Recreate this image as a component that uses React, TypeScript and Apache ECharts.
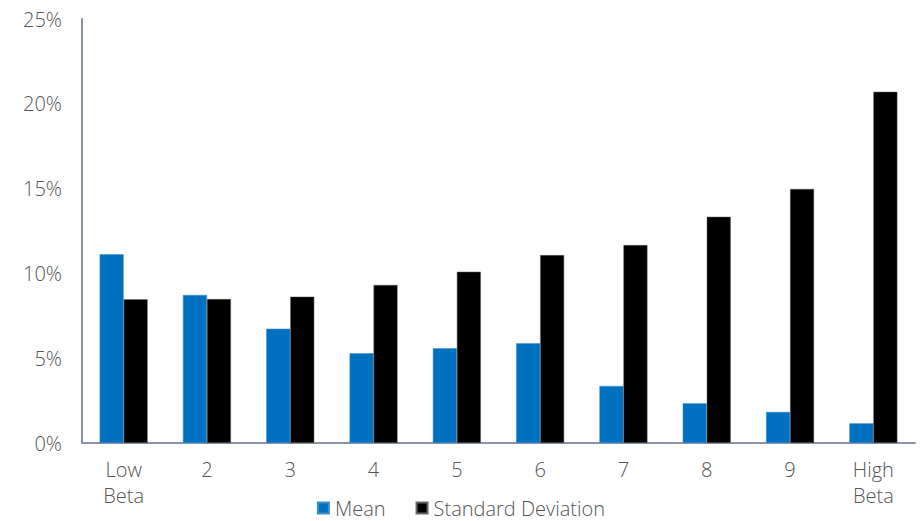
import React, { useEffect, useRef } from "react";
import * as echarts from "echarts";

const categories = ["Low\nBeta", "2", "3", "4", "5", "6", "7", "8", "9", "High\nBeta"];
const meanValues = [11.13, 8.73, 6.74, 5.29, 5.58, 5.88, 3.36, 2.34, 1.83, 1.16];
const stdValues = [8.47, 8.49, 8.63, 9.32, 10.1, 11.08, 11.67, 13.34, 14.98, 20.71];
const seriesNames = ["Mean", "Standard Deviation"];

const FONT = "'Open Sans', 'Noto Sans', sans-serif";
const TEXT = "#555555";
const AXIS = "#8a94a6";

export default function App() {
  const ref = useRef<HTMLDivElement>(null);

  useEffect(() => {
    if (!ref.current) return;
    const chart = echarts.init(ref.current, undefined, { renderer: "svg" });
    chart.setOption({
      animation: false,
      backgroundColor: "#ffffff",
      grid: { left: 82, right: 7, top: 19, bottom: 78, containLabel: false },
      legend: {
        bottom: -2,
        left: "center",
        itemWidth: 11,
        itemHeight: 11,
        itemGap: 30,
        icon: "rect",
        textStyle: { fontFamily: FONT, fontSize: 20, fontWeight: 300, color: TEXT, padding: [0, 0, 0, 1] },
        data: seriesNames,
      },
      xAxis: {
        type: "category",
        data: categories,
        axisLine: { lineStyle: { color: AXIS, width: 2 } },
        axisTick: { show: false },
        axisLabel: {
          fontFamily: FONT,
          fontSize: 20,
          fontWeight: 300,
          color: TEXT,
          margin: 13,
          lineHeight: 26,
          interval: 0,
        },
      },
      yAxis: {
        type: "value",
        min: 0,
        max: 25,
        interval: 5,
        axisLine: { show: true, lineStyle: { color: AXIS, width: 2 } },
        axisTick: { show: false },
        splitLine: { show: false },
        axisLabel: {
          fontFamily: FONT,
          fontSize: 20,
          fontWeight: 300,
          color: TEXT,
          margin: 20,
          formatter: (v: number) => `${v}%`,
        },
      },
      series: [
        {
          name: seriesNames[0],
          type: "bar",
          data: meanValues,
          barWidth: 24,
          barGap: "0%",
          itemStyle: { color: "#0070C0", borderColor: "#3f8fd0", borderWidth: 0.5 },
        },
        {
          name: seriesNames[1],
          type: "bar",
          data: stdValues,
          barWidth: 24,
          itemStyle: { color: "#000000", borderColor: "#666", borderWidth: 0.5 },
        },
      ],
    });
    return () => chart.dispose();
  }, []);

  return (
    <div
      ref={ref}
      style={{ position: "fixed", left: 0, top: 0, width: 922, height: 521, background: "#fff" }}
    />
  );
}
